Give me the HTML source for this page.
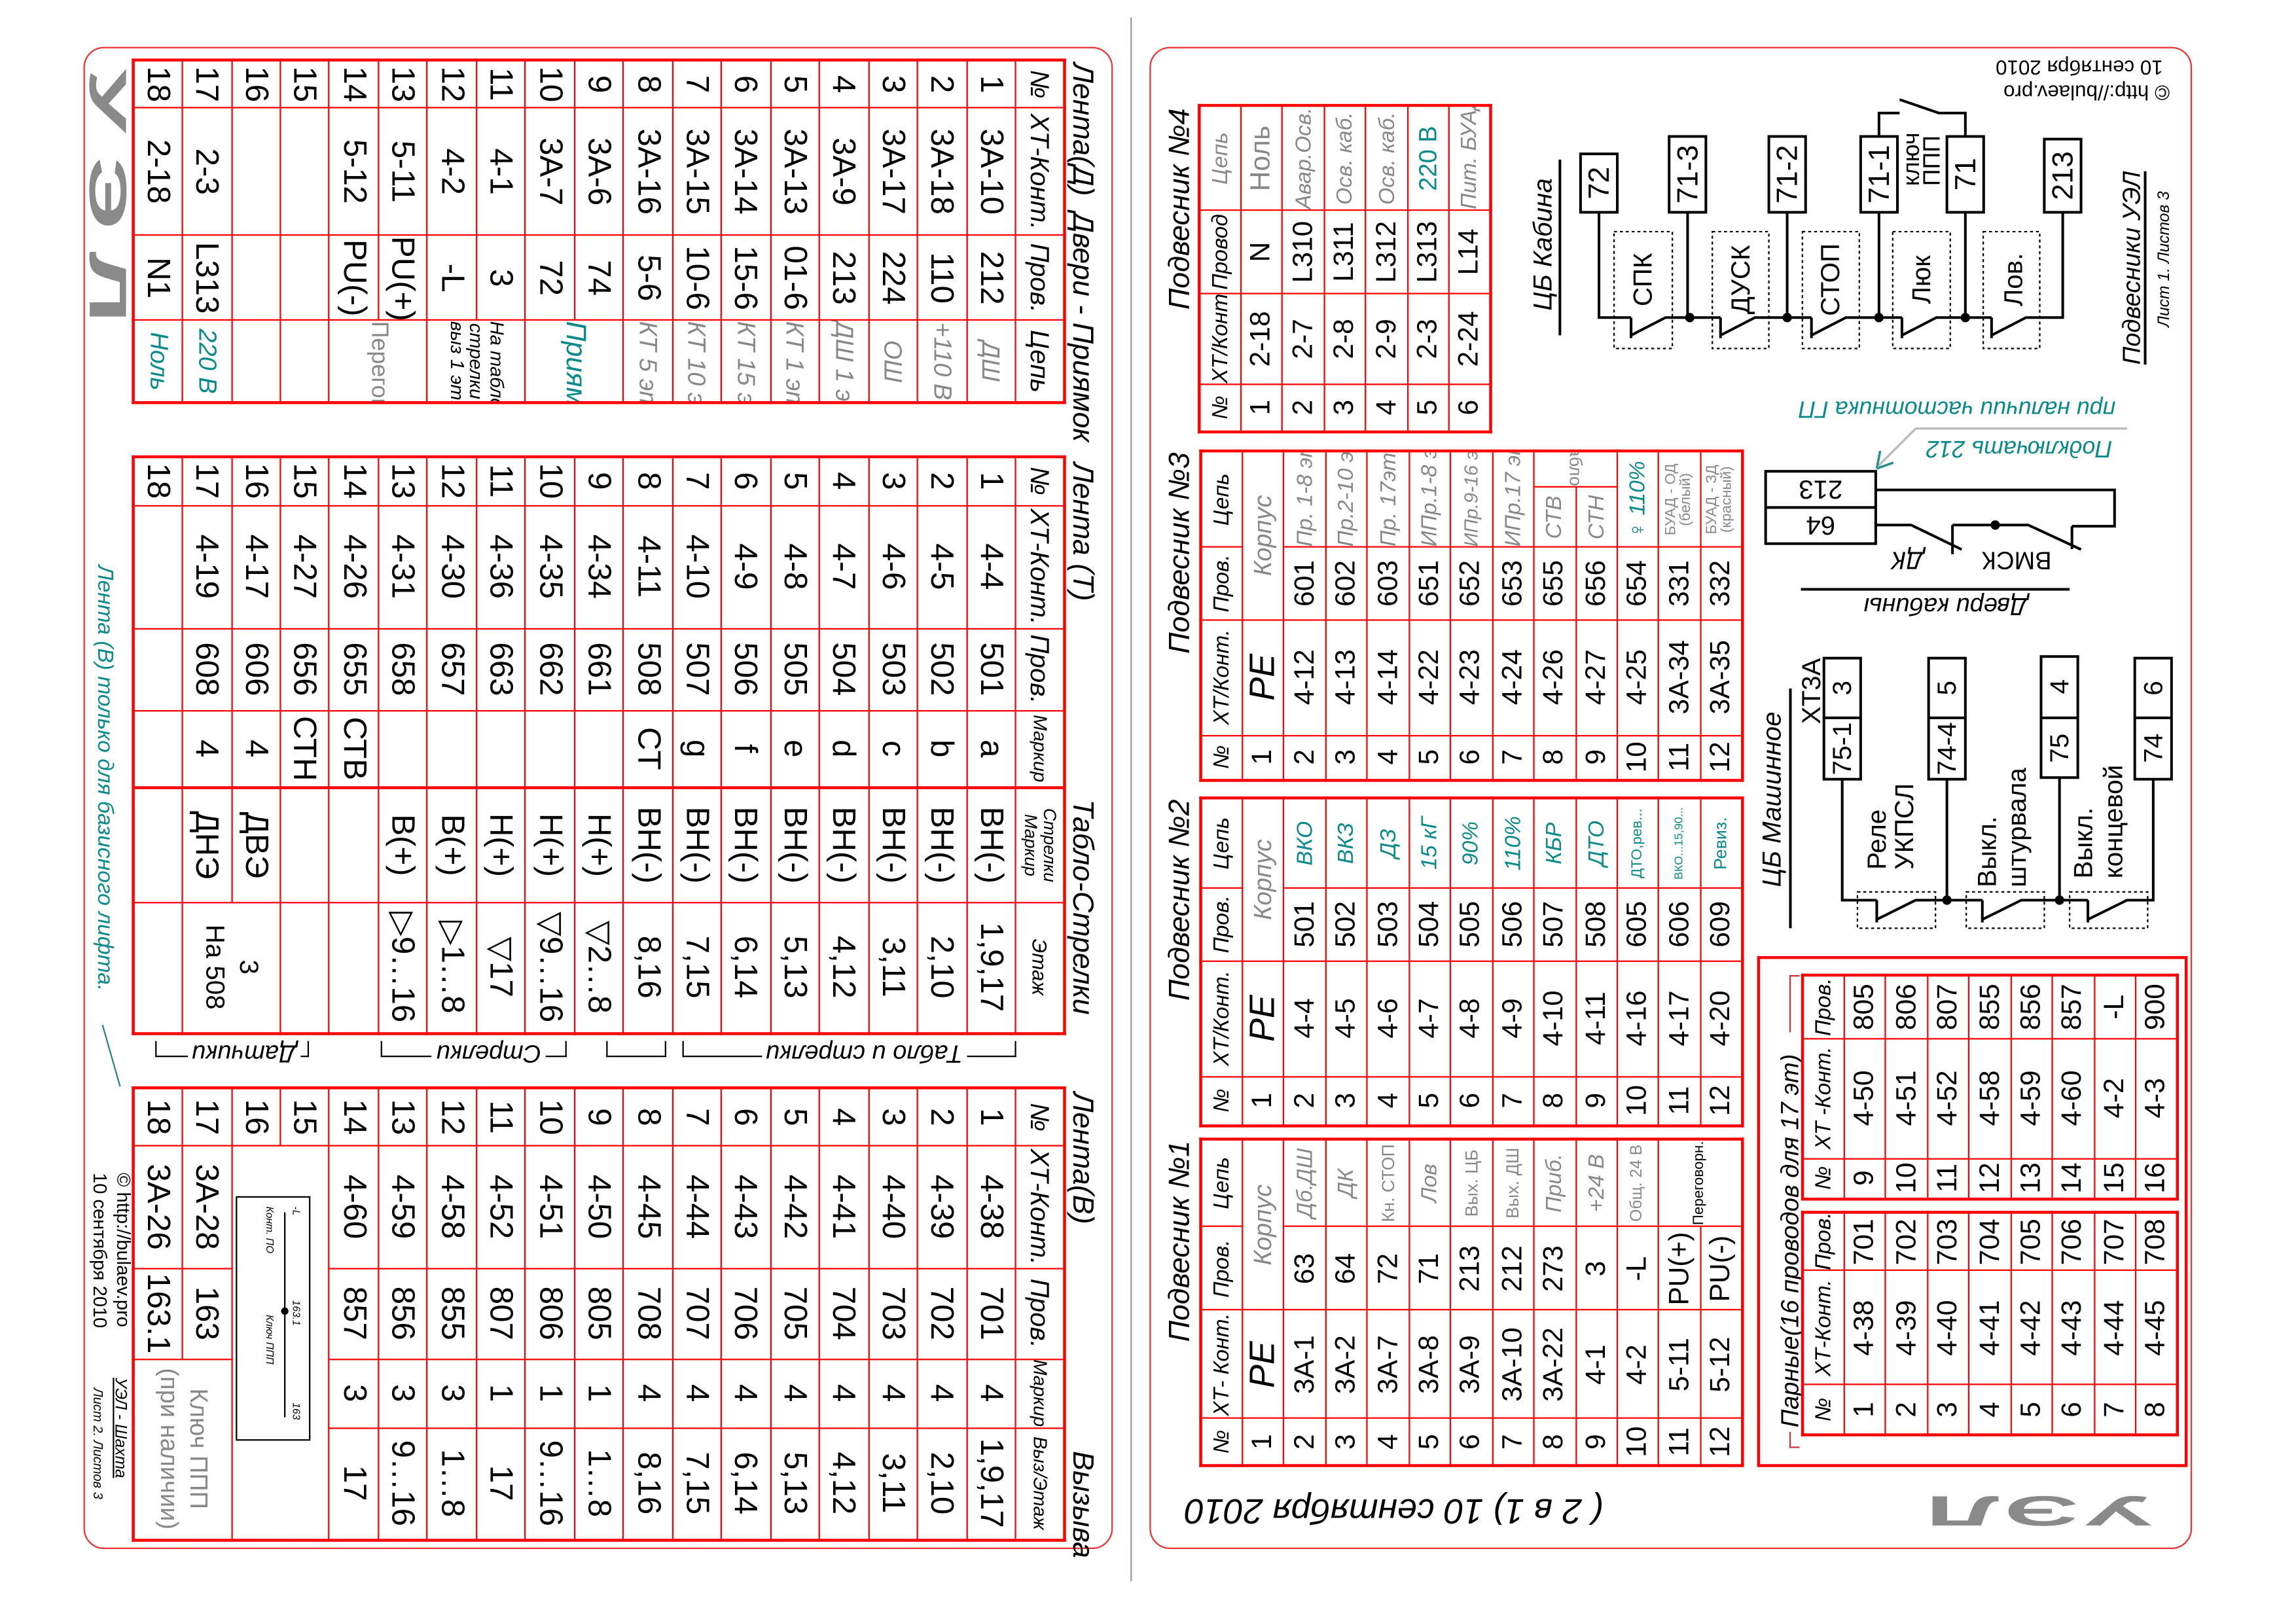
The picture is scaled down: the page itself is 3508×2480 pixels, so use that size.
<!DOCTYPE html>
<html><head><meta charset="utf-8">
<style>
html,body{margin:0;padding:0;background:#fff;width:3508px;height:2480px;overflow:hidden}
#s{position:absolute;left:0;top:0;width:1568px;height:1108.5px;transform:scale(2.23724);transform-origin:0 0;font-family:"Liberation Sans",sans-serif;color:#000}
.p{position:absolute;transform-origin:0 0;box-sizing:border-box;border:1px solid #e33;border-radius:14px}
.tb{position:absolute;border-collapse:collapse;table-layout:fixed;border:2.5px solid #f00;background:#fff}
.tb td{border:1.3px solid #f00;padding:0;text-align:center;white-space:nowrap;overflow:hidden;line-height:1}
.L td{font-size:22px}
.L tr{height:33.48px}
.R td{font-size:19px}
.R tr{height:28.46px}
.tb tr.h td{font-size:15px;font-style:italic}
.L tr.h td{font-size:18px;font-style:italic}
.g{color:#888!important}
.t{color:#0a8a8a!important}
.s{font-size:15px!important;font-style:italic}
.L .s{font-size:17px!important}
.tk{border-left:2.5px solid #f00!important}
.lb{position:absolute;font-style:italic;white-space:nowrap;line-height:1}
</style></head><body><div id="s">

<div style="position:absolute;left:771.5px;top:12px;width:1px;height:1068px;background:#999"></div>

<div class="p" style="left:760px;top:32px;width:1026px;height:703px;transform:rotate(90deg)">
<div class="lb" style="left:10px;top:10px;font-size:20px">Лента(Д)</div>
<div class="lb" style="left:112px;top:10px;font-size:20px">Двери - Приямок</div>
<div class="lb" style="left:283px;top:10px;font-size:20px">Лента (Т)</div>
<div class="lb" style="left:513px;top:10px;font-size:20px">Табло-Стрелки</div>
<div class="lb" style="left:713px;top:10px;font-size:20px">Лента(В)</div>
<div class="lb" style="left:958px;top:10px;font-size:20px">Вызыва</div>

<table class="tb L" style="left:7px;top:31px;width:234px;height:636px">
<colgroup><col style="width:32.6px"><col style="width:87.2px"><col style="width:58.1px"><col style="width:56.2px"></colgroup>
<tr class="h"><td>№</td><td>ХТ-Конт.</td><td>Пров.</td><td>Цепь</td></tr>
<tr><td>1</td><td>3А-10</td><td>212</td><td class="g s">ДШ</td></tr>
<tr><td>2</td><td>3А-18</td><td>110</td><td class="g s">+110 В</td></tr>
<tr><td>3</td><td>3А-17</td><td>224</td><td class="g s">ОШ</td></tr>
<tr><td>4</td><td>3А-9</td><td>213</td><td class="g s">ДШ 1 эт.</td></tr>
<tr><td>5</td><td>3А-13</td><td>01-6</td><td class="g s">КТ 1 эт.</td></tr>
<tr><td>6</td><td>3А-14</td><td>15-6</td><td class="g s">КТ 15 эт</td></tr>
<tr><td>7</td><td>3А-15</td><td>10-6</td><td class="g s">КТ 10 эт</td></tr>
<tr><td>8</td><td>3А-16</td><td>5-6</td><td class="g s">КТ 5 эт.</td></tr>
<tr><td>9</td><td>3А-6</td><td>74</td><td rowspan="2" class="t" style="font-size:19px;font-style:italic">Приямок</td></tr>
<tr><td>10</td><td>3А-7</td><td>72</td></tr>
<tr><td>11</td><td>4-1</td><td>3</td><td rowspan="2" style="font-size:13px;line-height:1.05;font-style:italic">На табло<br>стрелки<br>выз 1 эт.</td></tr>
<tr><td>12</td><td>4-2</td><td>-L</td></tr>
<tr><td>13</td><td>5-11</td><td>PU(+)</td><td rowspan="2" class="g" style="font-size:16px">Переговорник</td></tr>
<tr><td>14</td><td>5-12</td><td>PU(-)</td></tr>
<tr><td>15</td><td></td><td></td><td></td></tr>
<tr><td>16</td><td></td><td></td><td></td></tr>
<tr><td>17</td><td>2-3</td><td>L313</td><td class="t s">220 В</td></tr>
<tr><td>18</td><td>2-18</td><td>N1</td><td class="t s">Ноль</td></tr>
</table>

<table class="tb L" style="left:277.5px;top:31px;width:394px;height:636px">
<colgroup><col style="width:33.5px"><col style="width:84px"><col style="width:56px"><col style="width:53px"><col style="width:78px"><col style="width:89.5px"></colgroup>
<tr class="h"><td>№</td><td>ХТ-Конт.</td><td>Пров.</td><td style="font-size:13px">Маркир</td><td class="tk" style="font-size:12px;line-height:1.1">Стрелки<br>Маркир</td><td style="font-size:14px">Этаж</td></tr>
<tr><td>1</td><td>4-4</td><td>501</td><td>a</td><td class="tk">ВН(-)</td><td>1,9,17</td></tr>
<tr><td>2</td><td>4-5</td><td>502</td><td>b</td><td class="tk">ВН(-)</td><td>2,10</td></tr>
<tr><td>3</td><td>4-6</td><td>503</td><td>c</td><td class="tk">ВН(-)</td><td>3,11</td></tr>
<tr><td>4</td><td>4-7</td><td>504</td><td>d</td><td class="tk">ВН(-)</td><td>4,12</td></tr>
<tr><td>5</td><td>4-8</td><td>505</td><td>e</td><td class="tk">ВН(-)</td><td>5,13</td></tr>
<tr><td>6</td><td>4-9</td><td>506</td><td>f</td><td class="tk">ВН(-)</td><td>6,14</td></tr>
<tr><td>7</td><td>4-10</td><td>507</td><td>g</td><td class="tk">ВН(-)</td><td>7,15</td></tr>
<tr><td>8</td><td>4-11</td><td>508</td><td>CT</td><td class="tk">ВН(-)</td><td>8,16</td></tr>
<tr><td>9</td><td>4-34</td><td>661</td><td></td><td class="tk">Н(+)</td><td>▽2…8</td></tr>
<tr><td>10</td><td>4-35</td><td>662</td><td></td><td class="tk">Н(+)</td><td>▽9…16</td></tr>
<tr><td>11</td><td>4-36</td><td>663</td><td></td><td class="tk">Н(+)</td><td>▽17</td></tr>
<tr><td>12</td><td>4-30</td><td>657</td><td></td><td class="tk">В(+)</td><td>▷1…8</td></tr>
<tr><td>13</td><td>4-31</td><td>658</td><td></td><td class="tk">В(+)</td><td>▷9…16</td></tr>
<tr><td>14</td><td>4-26</td><td>655</td><td>СТВ</td><td class="tk"></td><td></td></tr>
<tr><td>15</td><td>4-27</td><td>656</td><td>СТН</td><td class="tk"></td><td></td></tr>
<tr><td>16</td><td>4-17</td><td>606</td><td>4</td><td class="tk">ДВЭ</td><td rowspan="2" style="font-size:18px;line-height:1.3">3<br>На 508</td></tr>
<tr><td>17</td><td>4-19</td><td>608</td><td>4</td><td class="tk">ДНЭ</td></tr>
<tr><td>18</td><td></td><td></td><td></td><td class="tk"></td><td></td></tr>
</table>

<table class="tb L" style="left:709px;top:31px;width:308.5px;height:636px">
<colgroup><col style="width:39.5px"><col style="width:83.5px"><col style="width:62px"><col style="width:47px"><col style="width:76.5px"></colgroup>
<tr class="h"><td>№</td><td>ХТ-Конт.</td><td>Пров.</td><td style="font-size:13px">Маркир</td><td style="font-size:13px">Выз/Этаж</td></tr>
<tr><td>1</td><td>4-38</td><td>701</td><td>4</td><td>1,9,17</td></tr>
<tr><td>2</td><td>4-39</td><td>702</td><td>4</td><td>2,10</td></tr>
<tr><td>3</td><td>4-40</td><td>703</td><td>4</td><td>3,11</td></tr>
<tr><td>4</td><td>4-41</td><td>704</td><td>4</td><td>4,12</td></tr>
<tr><td>5</td><td>4-42</td><td>705</td><td>4</td><td>5,13</td></tr>
<tr><td>6</td><td>4-43</td><td>706</td><td>4</td><td>6,14</td></tr>
<tr><td>7</td><td>4-44</td><td>707</td><td>4</td><td>7,15</td></tr>
<tr><td>8</td><td>4-45</td><td>708</td><td>4</td><td>8,16</td></tr>
<tr><td>9</td><td>4-50</td><td>805</td><td>1</td><td>1…8</td></tr>
<tr><td>10</td><td>4-51</td><td>806</td><td>1</td><td>9…16</td></tr>
<tr><td>11</td><td>4-52</td><td>807</td><td>1</td><td>17</td></tr>
<tr><td>12</td><td>4-58</td><td>855</td><td>3</td><td>1…8</td></tr>
<tr><td>13</td><td>4-59</td><td>856</td><td>3</td><td>9…16</td></tr>
<tr><td>14</td><td>4-60</td><td>857</td><td>3</td><td>17</td></tr>
<tr><td>15</td><td colspan="4" rowspan="2"></td></tr>
<tr><td>16</td></tr>
<tr><td>17</td><td>3А-28</td><td>163</td><td colspan="2" rowspan="2" class="g" style="font-size:17px;line-height:1.2">Ключ ППП<br>(при наличии)</td></tr>
<tr><td>18</td><td>3А-26</td><td>163.1</td></tr>
</table>
<div style="position:absolute;left:784px;top:547px;width:165px;height:49px;border:1px solid #000;font-size:7px;font-style:italic;background:#fff">
<span style="position:absolute;left:6px;top:6px">-L</span>
<span style="position:absolute;left:6px;top:24px">Конт. ПО</span>
<span style="position:absolute;left:70px;top:6px">163.1</span>
<span style="position:absolute;left:80px;top:24px">Ключ ППП</span>
<span style="position:absolute;left:140px;top:6px">163</span>
<div style="position:absolute;left:10px;top:16px;width:140px;height:1px;background:#000"></div>
<div style="position:absolute;left:75px;top:14px;width:5px;height:5px;border-radius:50%;background:#000"></div>
</div>

<div class="lb t" style="left:353px;top:680px;font-size:15px">Лента (В) только для базисного лифта.</div>
<div class="lb" style="left:768px;top:668px;font-size:13px;font-style:normal">© http://bulaev.pro</div>
<div class="lb" style="left:768px;top:684px;font-size:13px;font-style:normal">10 сентября 2010</div>
<div class="lb" style="left:908px;top:672px;font-size:11px;text-decoration:underline">УЭЛ - Шахта</div>
<div class="lb" style="left:915px;top:688px;font-size:9px">Лист 2. Листов 3</div>
<div class="lb" style="left:14px;top:666px;font-size:40px;font-weight:bold;font-style:normal;color:#8a8a8a;letter-spacing:10px;transform-origin:0 50%;transform:scale(1.75,0.9)">УЭЛ</div>
</div>

<div style="position:absolute;left:466px;top:711px;width:226px;height:10px;border:1px solid #000;border-top:none"></div>
<div style="position:absolute;left:414px;top:711px;width:39px;height:10px;border:1px solid #000;border-top:none"></div>
<div style="position:absolute;left:260px;top:711px;width:125px;height:10px;border:1px solid #000;border-top:none"></div>
<div style="position:absolute;left:106px;top:711px;width:103px;height:10px;border:1px solid #000;border-top:none"></div>
<div class="lb" style="left:520px;top:711px;font-size:17px;background:#fff;padding:0 3px;transform:rotate(180deg)">Табло и стрелки</div>
<div class="lb" style="left:295px;top:711px;font-size:17px;background:#fff;padding:0 3px;transform:rotate(180deg)">Стрелки</div>
<div class="lb" style="left:128px;top:711px;font-size:17px;background:#fff;padding:0 3px;transform:rotate(180deg)">Датчики</div>

<div class="p" style="left:785px;top:1058px;width:1026px;height:712px;transform:rotate(-90deg)">
<div class="lb" style="left:761px;width:222px;text-align:right;top:10px;font-size:20px">Подвесник №4</div>
<div class="lb" style="left:523px;width:225px;text-align:right;top:10px;font-size:20px">Подвесник №3</div>
<div class="lb" style="left:287px;width:224px;text-align:right;top:10px;font-size:20px">Подвесник №2</div>
<div class="lb" style="left:55px;width:223px;text-align:right;top:10px;font-size:20px">Подвесник №1</div>

<table class="tb R" style="left:761.2px;top:32px;width:222.4px;height:199.5px">
<colgroup><col style="width:32.5px"><col style="width:61.6px"><col style="width:57.3px"><col style="width:71px"></colgroup>
<tr class="h"><td>№</td><td>ХТ/Конт.</td><td>Провод</td><td class="g">Цепь</td></tr>
<tr><td>1</td><td>2-18</td><td>N</td><td class="g" style="font-size:19px">Ноль</td></tr>
<tr><td>2</td><td>2-7</td><td>L310</td><td class="g s">Авар.Осв.</td></tr>
<tr><td>3</td><td>2-8</td><td>L311</td><td class="g s">Осв. каб.</td></tr>
<tr><td>4</td><td>2-9</td><td>L312</td><td class="g s">Осв. каб.</td></tr>
<tr><td>5</td><td>2-3</td><td>L313</td><td class="t" style="font-size:17px">220 В</td></tr>
<tr><td>6</td><td>2-24</td><td>L14</td><td class="g s">Пит. БУАД</td></tr>
</table>

<table class="tb R" style="left:523.4px;top:33px;width:224.6px;height:370px">
<colgroup><col style="width:30.6px"><col style="width:79px"><col style="width:49.2px"><col style="width:41px"><col style="width:24.8px"></colgroup>
<tr class="h"><td>№</td><td>ХТ/Конт.</td><td>Пров.</td><td colspan="2">Цепь</td></tr>
<tr><td>1</td><td style="font-size:24px;font-style:italic">PE</td><td colspan="3" class="g" style="font-size:17px;font-style:italic">Корпус</td></tr>
<tr><td>2</td><td>4-12</td><td>601</td><td colspan="2" class="g s">Пр. 1-8 эт</td></tr>
<tr><td>3</td><td>4-13</td><td>602</td><td colspan="2" class="g s">Пр.2-10 эт</td></tr>
<tr><td>4</td><td>4-14</td><td>603</td><td colspan="2" class="g s">Пр. 17эт</td></tr>
<tr><td>5</td><td>4-22</td><td>651</td><td colspan="2" class="g s">ИПр.1-8 эт</td></tr>
<tr><td>6</td><td>4-23</td><td>652</td><td colspan="2" class="g s" style="font-size:13px!important">ИПр.9-16 эт</td></tr>
<tr><td>7</td><td>4-24</td><td>653</td><td colspan="2" class="g s">ИПр.17 эт</td></tr>
<tr><td>8</td><td>4-26</td><td>655</td><td class="g s">СТВ</td><td rowspan="2" class="g" style="font-size:12px"><span style="display:inline-block;transform:rotate(180deg)">Табло</span></td></tr>
<tr><td>9</td><td>4-27</td><td>656</td><td class="g s">СТН</td></tr>
<tr><td>10</td><td>4-25</td><td>654</td><td colspan="2" class="t s">♀ 110%</td></tr>
<tr><td>11</td><td>3А-34</td><td>331</td><td colspan="2" class="g" style="font-size:10px;line-height:1">БУАД - ОД<br>(белый)</td></tr>
<tr><td>12</td><td>3А-35</td><td>332</td><td colspan="2" class="g" style="font-size:10px;line-height:1">БУАД - ЗД<br>(красный)</td></tr>
</table>

<table class="tb R" style="left:287.2px;top:33px;width:223.8px;height:370px">
<colgroup><col style="width:33.8px"><col style="width:79px"><col style="width:49.5px"><col style="width:61.5px"></colgroup>
<tr class="h"><td>№</td><td>ХТ/Конт.</td><td>Пров.</td><td>Цепь</td></tr>
<tr><td>1</td><td style="font-size:24px;font-style:italic">PE</td><td colspan="2" class="g" style="font-size:17px;font-style:italic">Корпус</td></tr>
<tr><td>2</td><td>4-4</td><td>501</td><td class="t s">ВКО</td></tr>
<tr><td>3</td><td>4-5</td><td>502</td><td class="t s">ВКЗ</td></tr>
<tr><td>4</td><td>4-6</td><td>503</td><td class="t s">ДЗ</td></tr>
<tr><td>5</td><td>4-7</td><td>504</td><td class="t s">15 кГ</td></tr>
<tr><td>6</td><td>4-8</td><td>505</td><td class="t s">90%</td></tr>
<tr><td>7</td><td>4-9</td><td>506</td><td class="t s">110%</td></tr>
<tr><td>8</td><td>4-10</td><td>507</td><td class="t s">КБР</td></tr>
<tr><td>9</td><td>4-11</td><td>508</td><td class="t s">ДТО</td></tr>
<tr><td>10</td><td>4-16</td><td>605</td><td class="t" style="font-size:10px">ДТО,рев...</td></tr>
<tr><td>11</td><td>4-17</td><td>606</td><td class="t" style="font-size:8px">ВКО...15,90...</td></tr>
<tr><td>12</td><td>4-20</td><td>609</td><td class="t" style="font-size:12px">Ревиз.</td></tr>
</table>

<table class="tb R" style="left:55px;top:33px;width:223.4px;height:370px">
<colgroup><col style="width:32px"><col style="width:74px"><col style="width:57px"><col style="width:60.4px"></colgroup>
<tr class="h"><td>№</td><td>ХТ- Конт.</td><td>Пров.</td><td>Цепь</td></tr>
<tr><td>1</td><td style="font-size:24px;font-style:italic">PE</td><td colspan="2" class="g" style="font-size:17px;font-style:italic">Корпус</td></tr>
<tr><td>2</td><td>3А-1</td><td>63</td><td class="g s">Дб.ДШ</td></tr>
<tr><td>3</td><td>3А-2</td><td>64</td><td class="g s">ДК</td></tr>
<tr><td>4</td><td>3А-7</td><td>72</td><td class="g" style="font-size:12px">Кн. СТОП</td></tr>
<tr><td>5</td><td>3А-8</td><td>71</td><td class="g s">Лов</td></tr>
<tr><td>6</td><td>3А-9</td><td>213</td><td class="g" style="font-size:12px">Вых. ЦБ</td></tr>
<tr><td>7</td><td>3А-10</td><td>212</td><td class="g" style="font-size:12px">Вых. ДШ</td></tr>
<tr><td>8</td><td>3А-22</td><td>273</td><td class="g s">Приб.</td></tr>
<tr><td>9</td><td>4-1</td><td>3</td><td class="g s">+24 В</td></tr>
<tr><td>10</td><td>4-2</td><td>-L</td><td class="g" style="font-size:11px">Общ. 24 В</td></tr>
<tr><td>11</td><td>5-11</td><td>PU(+)</td><td rowspan="2" style="font-size:10px">Переговорн.</td></tr>
<tr><td>12</td><td>5-12</td><td>PU(-)</td></tr>
</table>

<div style="position:absolute;left:54.5px;top:414px;width:349.5px;height:294px;box-sizing:border-box;border:2.5px solid #f00"></div>
<div class="lb" style="left:82px;top:428px;font-size:17px">Парные(16 проводов для 17 эт)</div>
<div style="position:absolute;left:68px;top:436px;width:10px;height:6px;border-left:1px solid #c33;border-top:1px solid #c33"></div>
<div style="position:absolute;left:352px;top:436px;width:38px;height:6px;border-right:1px solid #c33;border-top:1px solid #c33"></div>

<table class="tb R" style="left:76px;top:444px;width:152px;height:257px">
<colgroup><col style="width:34px"><col style="width:78px"><col style="width:40px"></colgroup>
<tr class="h"><td>№</td><td>ХТ-Конт.</td><td>Пров.</td></tr>
<tr><td>1</td><td>4-38</td><td>701</td></tr>
<tr><td>2</td><td>4-39</td><td>702</td></tr>
<tr><td>3</td><td>4-40</td><td>703</td></tr>
<tr><td>4</td><td>4-41</td><td>704</td></tr>
<tr><td>5</td><td>4-42</td><td>705</td></tr>
<tr><td>6</td><td>4-43</td><td>706</td></tr>
<tr><td>7</td><td>4-44</td><td>707</td></tr>
<tr><td>8</td><td>4-45</td><td>708</td></tr>
</table>
<table class="tb R" style="left:237.4px;top:444px;width:152.6px;height:257px">
<colgroup><col style="width:27.6px"><col style="width:82px"><col style="width:43px"></colgroup>
<tr class="h"><td>№</td><td>ХТ -Конт.</td><td>Пров.</td></tr>
<tr><td>9</td><td>4-50</td><td>805</td></tr>
<tr><td>10</td><td>4-51</td><td>806</td></tr>
<tr><td>11</td><td>4-52</td><td>807</td></tr>
<tr><td>12</td><td>4-58</td><td>855</td></tr>
<tr><td>13</td><td>4-59</td><td>856</td></tr>
<tr><td>14</td><td>4-60</td><td>857</td></tr>
<tr><td>15</td><td>4-2</td><td>-L</td></tr>
<tr><td>16</td><td>4-3</td><td>900</td></tr>
</table>
</div>

<svg style="position:absolute;left:0;top:0" width="1568" height="1108.5" viewBox="0 0 1568 1108.5" font-family="Liberation Sans, sans-serif">
<g stroke="#000" stroke-width="1.8" fill="none">
<rect x="1079.4" y="105.1" width="25.1" height="39.9"/>
<rect x="1139.9" y="93.2" width="25.1" height="51.8"/>
<rect x="1208" y="93.2" width="25.1" height="51.8"/>
<rect x="1270.7" y="93.2" width="25.1" height="51.8"/>
<rect x="1329.6" y="93.2" width="25.1" height="51.8"/>
<rect x="1396.1" y="95" width="25.1" height="50"/>
<path d="M1092 145V216.9H1113.9M1113.9 216.9V230.9M1113.9 229L1137.4 216.9H1175M1175 216.9V230.9M1175 229L1198.5 216.9H1237.1M1237.1 216.9V230.9M1237.1 229L1260.6 216.9H1298.9M1298.9 216.9V230.9M1298.9 229L1322.4 216.9H1360.1M1360.1 216.9V230.9M1360.1 229L1383.6 216.9H1408.7V145"/>
<path d="M1152.5 145V216.9M1220.5 145V216.9M1283.2 145V216.9M1342.2 145V216.9"/>
<path d="M1283.2 93.2V77.2H1297.3M1297.3 68L1324 77.2H1342.2V93.2"/>
<line x1="1065.3" y1="109" x2="1065.3" y2="229"/>
<line x1="1465" y1="117" x2="1465" y2="249"/>
<rect x="1205.8" y="321.9" width="75.2" height="49.4"/>
<line x1="1205.8" y1="346.6" x2="1281" y2="346.6"/>
<path d="M1281 334.6H1444.1V359.4H1415M1415 359.4V375M1362.6 358.6H1385.2L1421.2 375.3M1281 358.6H1305.2L1339.7 375.3M1333.4 358.6V378.5M1333.4 358.6H1362.6"/>
<line x1="1229.9" y1="402.5" x2="1413.4" y2="402.5"/>
<rect x="1245.6" y="449.5" width="25.1" height="82.7"/><line x1="1245.6" y1="490.3" x2="1270.7" y2="490.3"/>
<rect x="1317.1" y="449.5" width="25.1" height="82.7"/><line x1="1317.1" y1="490.3" x2="1342.2" y2="490.3"/>
<rect x="1393.9" y="448.4" width="25.1" height="82.7"/><line x1="1393.9" y1="490.3" x2="1419" y2="490.3"/>
<rect x="1457.9" y="449.5" width="25.1" height="82.7"/><line x1="1457.9" y1="490.3" x2="1483" y2="490.3"/>
<path d="M1258.1 532.2V614.8H1281.7M1281.7 614.8V630M1281.7 628L1308.3 614.8H1353.8M1353.8 614.8V630M1353.8 628L1380.4 614.8H1425.9M1425.9 614.8V630M1425.9 628L1452.6 614.8H1470.5V532.2M1329.6 532.2V614.8M1406.5 531V614.8"/>
<line x1="1222.7" y1="470.3" x2="1222.7" y2="634"/>
</g>
<g stroke="#000" stroke-width="1" stroke-dasharray="2,2" fill="none">
<rect x="1102.3" y="158.2" width="39.8" height="79.8"/>
<rect x="1169.4" y="158.2" width="38.6" height="79.8"/>
<rect x="1230.9" y="158.2" width="38.9" height="79.8"/>
<rect x="1292.6" y="158.2" width="39.3" height="79.8"/>
<rect x="1354.4" y="158.2" width="38.6" height="79.8"/>
<rect x="1268.5" y="609.2" width="53.3" height="24.8"/>
<rect x="1342.8" y="609.2" width="53.3" height="24.8"/>
<rect x="1413.4" y="609.2" width="53.3" height="24.8"/>
</g>
<g fill="#000">
<circle cx="1154" cy="216.9" r="3.2"/><circle cx="1220.5" cy="216.9" r="3.2"/><circle cx="1283.2" cy="216.9" r="3.2"/><circle cx="1342.2" cy="216.9" r="3.2"/>
<circle cx="1362.6" cy="358.6" r="3.2"/>
<circle cx="1329.6" cy="614.8" r="3.2"/><circle cx="1406.5" cy="614.8" r="3.2"/>
</g>
<polyline points="1452.6,292.7 1308.3,292.7 1283,318" stroke="#bbb" stroke-width="1.5" fill="none"/>
<path d="M1281.7 320L1284 308M1281.7 320L1293 316" stroke="#2a9090" stroke-width="1.6" fill="none"/>
<line x1="70" y1="700" x2="82" y2="742" stroke="#2a8080" stroke-width="1"/>

<g font-size="20" text-anchor="middle" dominant-baseline="central">
<text transform="translate(1092,125) rotate(-90)">72</text>
<text transform="translate(1152.5,119) rotate(-90)">71-3</text>
<text transform="translate(1220.5,119) rotate(-90)">71-2</text>
<text transform="translate(1283.2,119) rotate(-90)">71-1</text>
<text transform="translate(1342.2,119) rotate(-90)">71</text>
<text transform="translate(1408.7,120) rotate(-90)">213</text>
</g>
<g font-size="18" text-anchor="middle" dominant-baseline="central">
<text transform="translate(1122,191) rotate(-90)">СПК</text>
<text transform="translate(1188.7,191) rotate(-90)">ДУСК</text>
<text transform="translate(1250,191) rotate(-90)">СТОП</text>
<text transform="translate(1312,191) rotate(-90)">Люк</text>
<text transform="translate(1375,191) rotate(-90)">Лов.</text>
<text transform="translate(1258.1,469.9) rotate(-90)">3</text>
<text transform="translate(1258.1,511.3) rotate(-90)">75-1</text>
<text transform="translate(1329.6,469.9) rotate(-90)">5</text>
<text transform="translate(1329.6,511.3) rotate(-90)">74-4</text>
<text transform="translate(1406.5,469) rotate(-90)">4</text>
<text transform="translate(1406.5,511) rotate(-90)">75</text>
<text transform="translate(1470.5,470) rotate(-90)">6</text>
<text transform="translate(1470.5,511) rotate(-90)">74</text>
<text transform="translate(1237,472) rotate(-90)">ХТ3А</text>
<text transform="translate(1210,546) rotate(-90)" font-style="italic">ЦБ Машинное</text>
<text transform="translate(1053.5,167) rotate(-90)" font-style="italic">ЦБ Кабина</text>
<text transform="translate(1243.4,334.3) rotate(180)">213</text>
<text transform="translate(1243.4,359) rotate(180)">64</text>
<text transform="translate(1377.3,382.5) rotate(180)" font-size="17">ВМСК</text>
<text transform="translate(1302.7,382.5) rotate(180)" font-size="17" font-style="italic">ДК</text>
<text transform="translate(1328.7,414) rotate(180)" font-size="17" font-style="italic">Двери кабины</text>
<text transform="translate(1378.9,306.7) rotate(180)" font-size="16" font-style="italic" fill="#0a8a8a">Подключать 212</text>
<text transform="translate(1336.6,279.5) rotate(180)" font-size="16" font-style="italic" fill="#0a8a8a">при наличии частотника ГП</text>
<text transform="translate(1456,183) rotate(-90)" font-size="17" font-style="italic">Подвесники УЭЛ</text>
<text transform="translate(1478,177) rotate(-90)" font-size="11" font-style="italic">Лист 1. Листов 3</text>
<text transform="translate(1420,46) rotate(180)" font-size="14">10 сентября 2010</text>
<text transform="translate(1425,63) rotate(180)" font-size="14">© http://bulaev.pro</text>
<text transform="translate(952,1032) rotate(180)" font-size="24" font-style="italic">( 2 в 1) 10 сентября 2010</text>
<text transform="translate(1389,1032) rotate(180) scale(2.1,0.85)" font-size="34" font-weight="bold" fill="#8a8a8a" letter-spacing="3">УЭЛ</text>
</g>
<g font-size="16" dominant-baseline="central">
<text transform="translate(1305.2,127) rotate(-90)">ключ</text>
<text transform="translate(1319.3,127) rotate(-90)">ППП</text>
<text font-size="18" transform="translate(1281.7,594) rotate(-90)">Реле</text>
<text font-size="18" transform="translate(1300.5,594) rotate(-90)">УКПСЛ</text>
<text font-size="18" transform="translate(1357,606) rotate(-90)">Выкл.</text>
<text font-size="18" transform="translate(1377.3,606) rotate(-90)">штурвала</text>
<text font-size="18" transform="translate(1422.8,600) rotate(-90)">Выкл.</text>
<text font-size="18" transform="translate(1443.2,600) rotate(-90)">концевой</text>
</g>
</svg>
</div></body></html>
